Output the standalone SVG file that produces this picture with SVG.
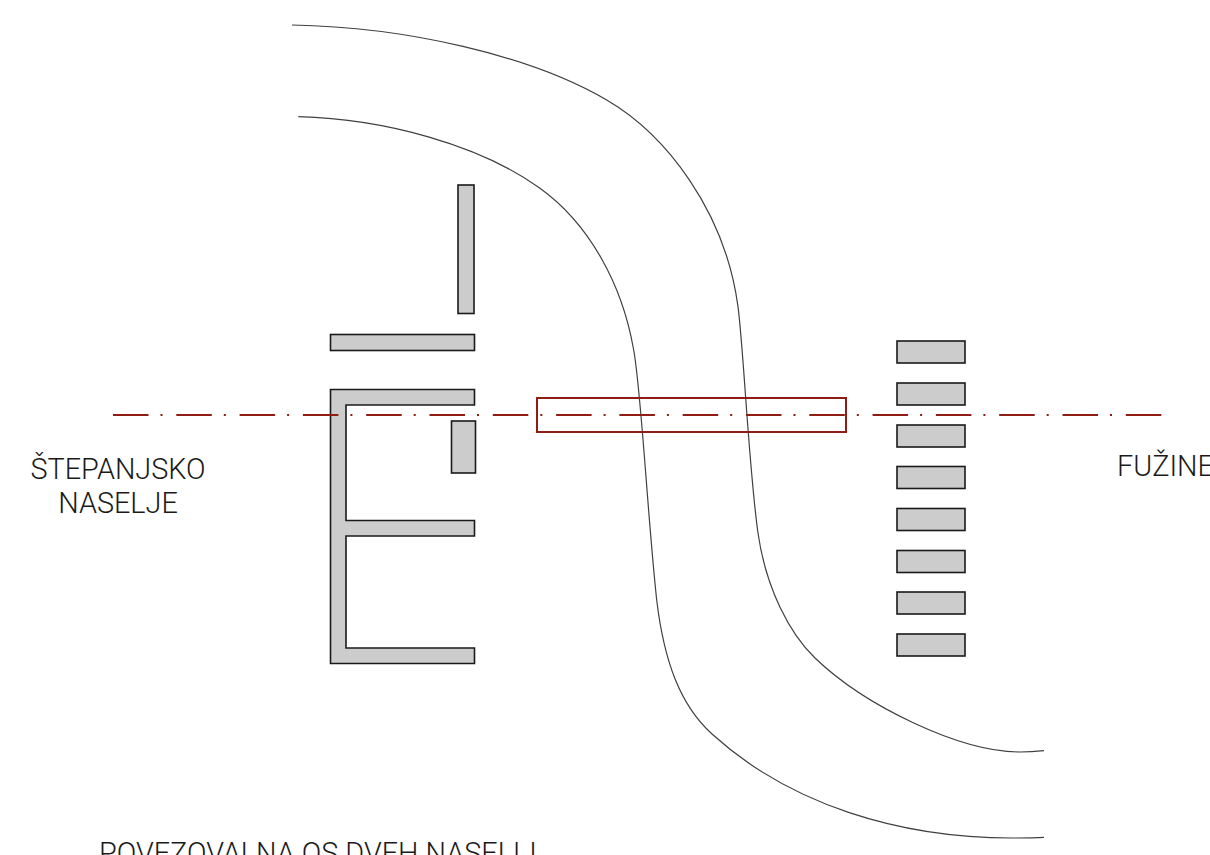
<svg xmlns="http://www.w3.org/2000/svg" width="1210" height="855" viewBox="0 0 1210 855">
<style>
.b{fill:#cccccc;stroke:#1a1a1a;stroke-width:1.600}
.r{fill:none;stroke:#404040;stroke-width:1.200}
.t{font-family:Roboto,"Liberation Sans",sans-serif;font-weight:300;font-size:28.800px;fill:#1a1a1a}
.a{fill:none;stroke:#8f1d14;stroke-width:2}
</style>
<rect width="1210" height="855" fill="#fff"/>
<g id="river">
<path class="r" d="M292 25C405 27 530 55 606.700 100C665 134 725 210 738 306.700C743.500 348 749 470 758 533C766 589 790 634 815 658C865 706 960 752 1020 752C1028 752 1036 751.500 1044 750.700"/>
<path class="r" d="M298.300 116.700C385 119 480 145 540 188.300C590 224.400 622 285 633.300 348C641 386 647 510 656.700 600C664 661 680 705 712 734C790 805 900 838 1012 838C1022 838 1033 838 1044 837.300"/>
</g>
<g id="buildings-left">
<rect class="b" x="458" y="185" width="16" height="128.500"/>
<rect class="b" x="330.500" y="334.500" width="144" height="16"/>
<path class="b" d="M330.500 389.500H474.500V405H346V520.500H474.500V536H346V648H474.500V663.500H330.500Z"/>
<rect class="b" x="451.500" y="421" width="24" height="52"/>
</g>
<g id="buildings-right">
<rect class="b" x="897" y="341" width="68" height="22"/>
<rect class="b" x="897" y="383" width="68" height="22"/>
<rect class="b" x="897" y="425" width="68" height="22"/>
<rect class="b" x="897" y="466.500" width="68" height="22"/>
<rect class="b" x="897" y="508.500" width="68" height="22"/>
<rect class="b" x="897" y="550.500" width="68" height="22"/>
<rect class="b" x="897" y="592" width="68" height="22"/>
<rect class="b" x="897" y="634" width="68" height="22"/>
</g>
<g id="axis">
<rect class="a" x="537" y="398" width="309" height="34"/>
<path class="a" d="M113 415H1163" stroke-dasharray="35.500 12 2 13.800"/>
</g>
<g id="labels">
<text class="t" x="118" y="479" text-anchor="middle">ŠTEPANJSKO</text>
<text class="t" x="118" y="513" text-anchor="middle">NASELJE</text>
<text class="t" x="1117" y="476">FUŽINE</text>
<text class="t" x="99" y="862.500">POVEZOVALNA OS DVEH NASELIJ</text>
</g>
</svg>
